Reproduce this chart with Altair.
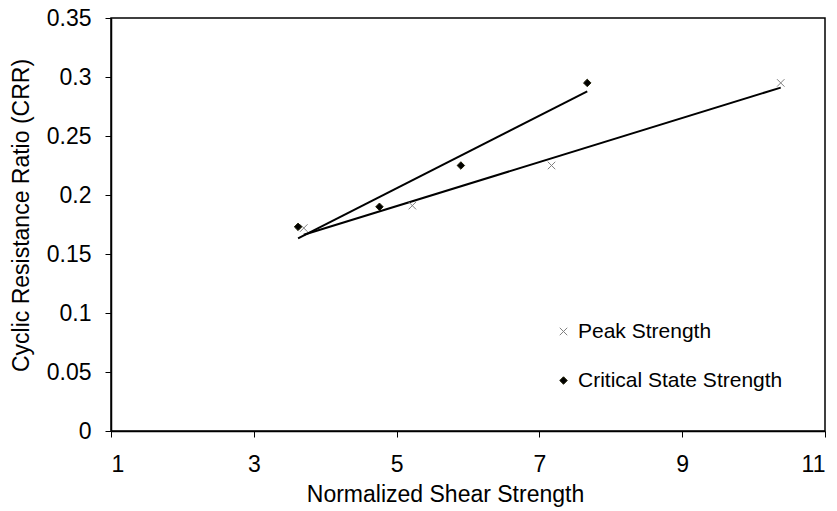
import altair as alt
import pandas as pd

# Normalized shear strength vs. cyclic resistance ratio, two strength definitions
peak_x = [3.70, 5.22, 7.17, 10.38]
peak_y = [0.172, 0.191, 0.225, 0.295]
crit_x = [3.62, 4.76, 5.90, 7.67]
crit_y = [0.173, 0.190, 0.225, 0.295]

series_names = ["Peak Strength", "Critical State Strength"]
x_ticks = [1, 3, 5, 7, 9, 11]
y_ticks = [0, 0.05, 0.1, 0.15, 0.2, 0.25, 0.3, 0.35]

df = pd.DataFrame(
    {
        "x": peak_x + crit_x,
        "y": peak_y + crit_y,
        "series": [series_names[0]] * len(peak_x) + [series_names[1]] * len(crit_x),
    }
)

FONT = "Liberation Sans"
cross_path = "M-1,-1L1,1M1,-1L-1,1"
diamond_path = "M0,-1L1,0L0,1L-1,0Z"

x_enc = alt.X(
    "x:Q",
    scale=alt.Scale(domain=[1, 11], nice=False, zero=False),
    axis=alt.Axis(
        values=x_ticks,
        format="d",
        title="Normalized Shear Strength",
        titleX=334,
        titlePadding=7,
        labelPadding=16,
    ),
)
y_enc = alt.Y(
    "y:Q",
    scale=alt.Scale(domain=[0, 0.35], nice=False),
    axis=alt.Axis(
        values=y_ticks,
        format="~g",
        title="Cyclic Resistance Ratio (CRR)",
        titleY=197,
        titlePadding=13,
        labelPadding=14,
    ),
)

legend_cfg = dict(title=None, orient="none", legendX=442, legendY=303)

points = (
    alt.Chart(df)
    .mark_point(strokeWidth=1, opacity=1, size=56)
    .encode(
        x=x_enc,
        y=y_enc,
        shape=alt.Shape(
            "series:N",
            scale=alt.Scale(domain=series_names, range=[cross_path, diamond_path]),
            legend=alt.Legend(
                **legend_cfg,
                labelFont=FONT,
                labelFontSize=21,
                labelColor="black",
                labelLimit=400,
                labelOffset=4,
                rowPadding=27,
                symbolSize=56,
                symbolStrokeWidth=1,
            ),
        ),
        stroke=alt.Stroke(
            "series:N",
            scale=alt.Scale(domain=series_names, range=["#808080", "#1a1a00"]),
            legend=alt.Legend(**legend_cfg),
        ),
        fill=alt.Fill(
            "series:N",
            scale=alt.Scale(domain=series_names, range=["transparent", "black"]),
            legend=alt.Legend(**legend_cfg),
        ),
    )
)

trend = (
    alt.Chart(df)
    .transform_regression("x", "y", groupby=["series"])
    .mark_line(color="black", strokeWidth=2)
    .encode(x="x:Q", y="y:Q", detail="series:N")
)

chart = (
    alt.layer(trend, points)
    .properties(
        width=714,
        height=413,
        autosize=alt.AutoSizeParams(type="none"),
        padding={"left": 111, "top": 18, "right": 12, "bottom": 80},
    )
    .configure_view(stroke="black", strokeWidth=1.5)
    .configure_axis(
        grid=False,
        domain=True,
        domainColor="black",
        domainWidth=1.5,
        ticks=True,
        tickColor="black",
        tickSize=6,
        tickWidth=1,
        labelFont=FONT,
        labelFontSize=23,
        labelColor="black",
        titleFont=FONT,
        titleFontSize=23,
        titleFontWeight="normal",
        titleColor="black",
    )
)

chart.save("out.html", embed_options={"renderer": "svg", "actions": False})
